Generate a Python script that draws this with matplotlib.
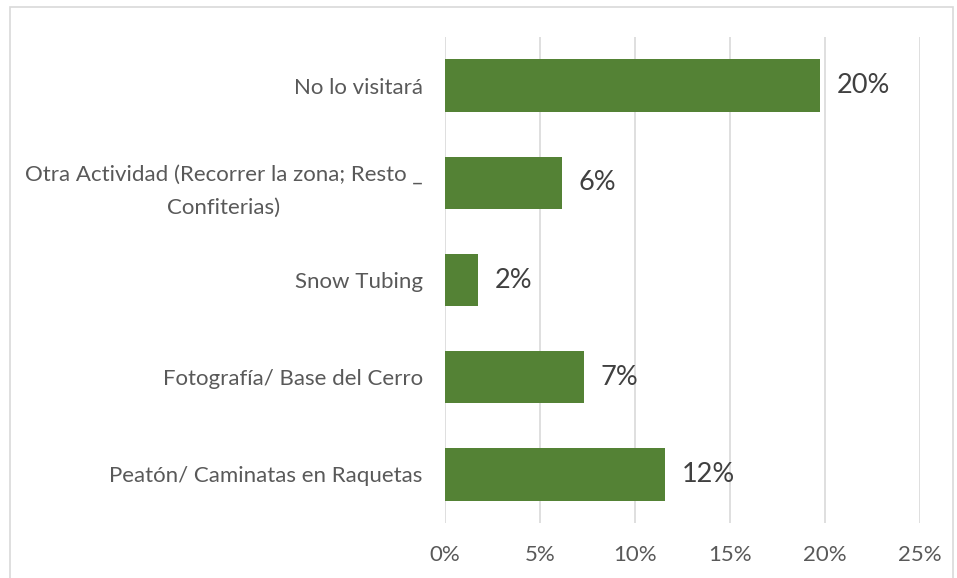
import matplotlib

matplotlib.use("Agg")
import matplotlib.pyplot as plt
from matplotlib.patches import Rectangle
from matplotlib.ticker import FuncFormatter, MultipleLocator

# Categories listed top to bottom, as in the reference.
CATEGORIES = [
    "No lo visitará",
    "Otra Actividad (Recorrer la zona; Resto _\nConfiterias)",
    "Snow Tubing",
    "Fotografía/ Base del Cerro",
    "Peatón/ Caminatas en Raquetas",
]
SHARES = [0.1974, 0.0616, 0.0174, 0.0733, 0.1160]

BAR_COLOR = "#548235"
GRID_COLOR = "#d9d9d9"
LABEL_COLOR = "#595959"
VALUE_COLOR = "#404040"

plt.rcParams["font.family"] = ["Lato", "DejaVu Sans"]

fig = plt.figure(figsize=(9.57, 5.78), dpi=100)
ax = fig.add_axes([445 / 957, 1 - 523 / 578, 475 / 957, 486 / 578])

ypos = list(range(len(CATEGORIES)))
ax.barh(ypos, SHARES, height=0.54, color=BAR_COLOR, zorder=3)
ax.set_ylim(len(CATEGORIES) - 0.5, -0.5)
ax.set_xlim(0, 0.25)
ax.set_yticks(ypos)
ax.set_yticklabels(CATEGORIES, color=LABEL_COLOR, fontsize=16,
                   multialignment="center", linespacing=1.8)
ax.xaxis.set_major_locator(MultipleLocator(0.05))
ax.xaxis.set_major_formatter(FuncFormatter(lambda v, _: f"{v * 100:.0f}%"))
ax.tick_params(axis="x", length=0, pad=15.5, labelsize=16, labelcolor=LABEL_COLOR)
ax.tick_params(axis="y", length=0, pad=16)
ax.grid(axis="x", color=GRID_COLOR, linewidth=1.2, zorder=0)
for side in ax.spines.values():
    side.set_visible(False)

for y, v in zip(ypos, SHARES):
    ax.annotate(f"{v * 100:.0f}%", (v, y), xytext=(12, 0), textcoords="offset points",
                ha="left", va="center", fontsize=19.5, color=VALUE_COLOR)

# light chart-area border
fig.patches.append(Rectangle((10 / 957, -0.02), 943 / 957, 1.02 - 7 / 578,
                             transform=fig.transFigure, fill=False,
                             edgecolor=GRID_COLOR, linewidth=1.2))

fig.savefig("out.png", dpi=100)
